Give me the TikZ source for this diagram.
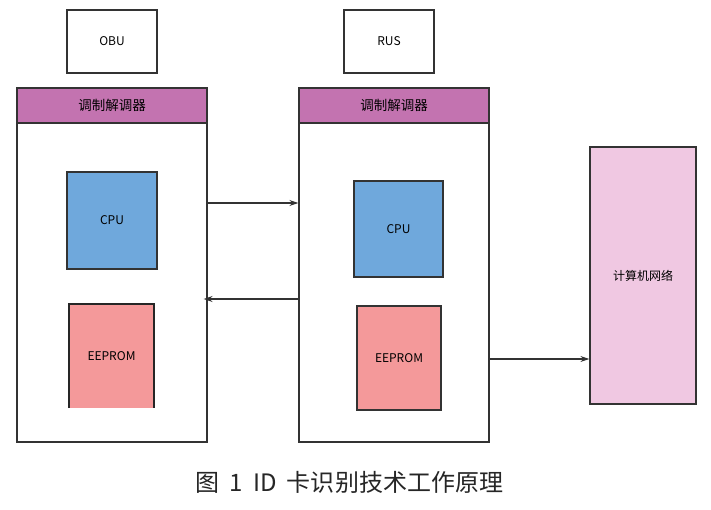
\documentclass[tikz,border=0pt]{standalone}
\usepackage{fontspec}
\setmainfont{Noto Sans CJK SC}
\usetikzlibrary{arrows.meta}

\definecolor{modem}{HTML}{C373B0}
\definecolor{cpublue}{HTML}{6FA8DC}
\definecolor{romred}{HTML}{F4999A}
\definecolor{netpink}{HTML}{F0C8E2}
\definecolor{edge}{HTML}{333333}

\tikzset{
  box/.style={draw=edge, line width=1.3pt, inner sep=0pt, font=\fontsize{12}{14}\selectfont},
  header/.style={box, fill=modem, minimum width=190, minimum height=35, font=\fontsize{13.5}{15}\selectfont},
  frame/.style={box, minimum width=190, minimum height=354},
  arr/.style={draw=edge, line width=1.2pt, -{Stealth[length=9pt,width=6pt]}}
}

\begin{document}
\begin{tikzpicture}[x=1pt, y=-1pt]
\useasboundingbox (0,0) rectangle (711,510);

% left side
\node[box, minimum width=90, minimum height=63] (obu) at (112,41.5) {OBU};
\node[frame] (obuframe) at (112,265) {};
\node[header] (obumodem) at (112,105.5) {调制解调器};
\node[box, fill=cpublue, minimum width=90, minimum height=97] (obucpu) at (112,220.5) {CPU};
\node[fill=romred, minimum width=85, minimum height=104, inner sep=0pt, font=\fontsize{12}{14}\selectfont] (oburom) at (111.5,356) {EEPROM};
\draw[draw=black!85, line width=1.6pt] (oburom.south west) -- (oburom.north west) -- (oburom.north east) -- (oburom.south east);

% right side
\node[box, minimum width=90, minimum height=63] (rus) at (389,41.5) {RUS};
\node[frame] (rusframe) at (394,265) {};
\node[header] (rusmodem) at (394,105.5) {调制解调器};
\node[box, fill=cpublue, minimum width=89, minimum height=96] (ruscpu) at (398.5,229) {CPU};
\node[box, fill=romred, minimum width=84, minimum height=104] (rusrom) at (399,358) {EEPROM};

\node[box, fill=netpink, minimum width=106, minimum height=257] (net) at (643,275.5) {计算机网络};

% links
\draw[arr] ([yshift=62pt]obuframe.east) -- ([yshift=62pt]rusframe.west);
\draw[arr] ([yshift=-34pt]rusframe.west) -- ([yshift=-34pt,xshift=-4pt]obuframe.east);
\draw[arr] ([yshift=-94pt]rusframe.east) -- ([yshift=-83.5pt]net.west);

\node[font=\fontsize{24}{27}\selectfont, text=black!85] (caption) at (349,482) {图\hspace{5pt} 1\hspace{5pt} ID\hspace{5pt} 卡识别技术工作原理};
\end{tikzpicture}
\end{document}
